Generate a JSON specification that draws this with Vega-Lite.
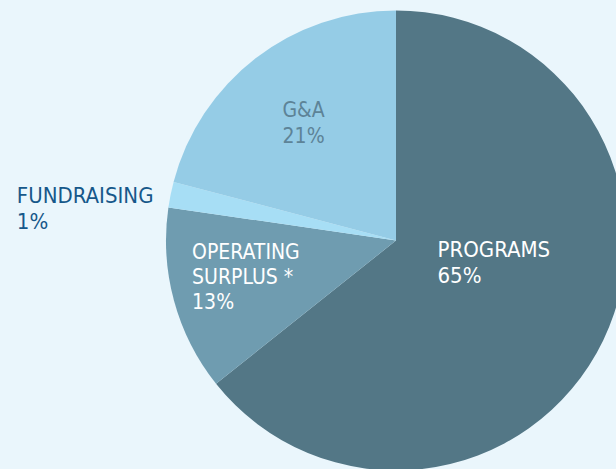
{
  "$schema": "https://vega.github.io/schema/vega-lite/v6.json",
  "width": 440,
  "height": 457,
  "autosize": {"type": "none"},
  "padding": {"left": 176, "top": 12, "right": 0, "bottom": 0},
  "background": "#eaf6fc",
  "view": {"stroke": null},
  "data": {
    "values": [
      {"category": "PROGRAMS", "share": 64.3, "rank": 1, "label": "PROGRAMS\n65%"},
      {"category": "OPERATING SURPLUS", "share": 13.0, "rank": 2, "label": "OPERATING\nSURPLUS *\n13%"},
      {"category": "FUNDRAISING", "share": 1.8, "rank": 3, "label": "FUNDRAISING\n1%"},
      {"category": "G&A", "share": 20.9, "rank": 4, "label": "G&A\n21%"}
    ]
  },
  "encoding": {
    "theta": {"field": "share", "type": "quantitative", "stack": true},
    "order": {"field": "rank", "type": "quantitative"}
  },
  "layer": [
    {
      "mark": {"type": "arc", "outerRadius": 230},
      "encoding": {
        "color": {
          "field": "category",
          "type": "nominal",
          "legend": null,
          "scale": {
            "domain": ["PROGRAMS", "OPERATING SURPLUS", "FUNDRAISING", "G&A"],
            "range": ["#537786", "#6f9cb0", "#a7def5", "#95cce6"]
          }
        }
      }
    },
    {
      "mark": {"type": "text", "radius": 45, "align": "left", "baseline": "alphabetic", "dx": 1, "dy": -3, "font": "DejaVu Sans Condensed", "fontSize": 22, "lineHeight": 26, "color": "#ffffff", "lineBreak": "\n"},
      "encoding": {"text": {"condition": {"test": "datum.rank == 1", "field": "label"}, "value": ""}}
    },
    {
      "mark": {"type": "text", "radius": 205, "align": "left", "baseline": "alphabetic", "dx": -6, "dy": -35, "font": "DejaVu Sans Condensed", "fontSize": 21, "lineHeight": 25, "color": "#ffffff", "lineBreak": "\n"},
      "encoding": {"text": {"condition": {"test": "datum.rank == 2", "field": "label"}, "value": ""}}
    },
    {
      "mark": {"type": "text", "radius": 387, "align": "left", "baseline": "alphabetic", "dx": 0, "dy": 40, "font": "DejaVu Sans Condensed", "fontSize": 22, "lineHeight": 26, "color": "#16588a", "lineBreak": "\n"},
      "encoding": {"text": {"condition": {"test": "datum.rank == 3", "field": "label"}, "value": ""}}
    },
    {
      "mark": {"type": "text", "radius": 153, "align": "center", "baseline": "alphabetic", "dx": 1, "dy": -2, "font": "DejaVu Sans Condensed", "fontSize": 21, "lineHeight": 26, "color": "#5d8397", "lineBreak": "\n"},
      "encoding": {"text": {"condition": {"test": "datum.rank == 4", "field": "label"}, "value": ""}}
    }
  ]
}
